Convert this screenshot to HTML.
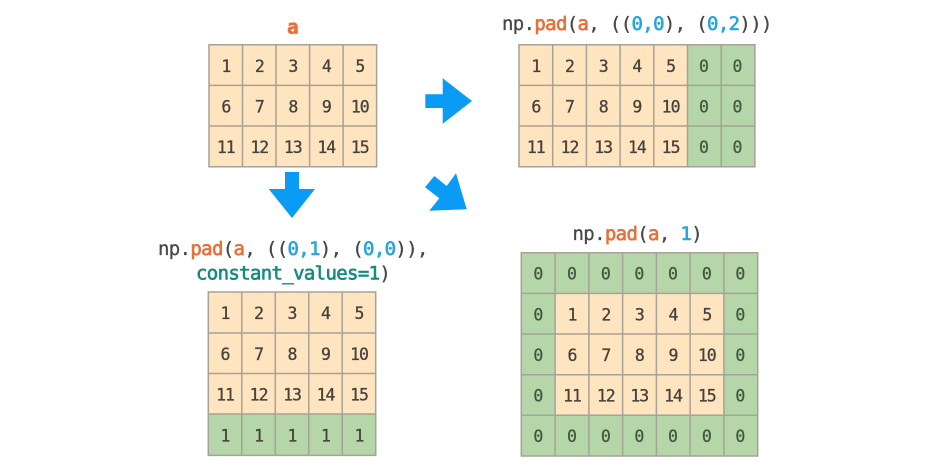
<!DOCTYPE html>
<html><head><meta charset="utf-8"><style>
html,body{margin:0;padding:0;background:#fff;width:927px;height:475px;overflow:hidden}
svg{display:block}
text{font-family:"DejaVu Sans Mono","Liberation Mono",monospace}
.n text{font-size:16.5px;letter-spacing:-1px;fill:#45423c;stroke:#45423c;stroke-width:.3px;text-anchor:middle}
.z text{font-size:16.5px;fill:#44553f;stroke:#44553f;stroke-width:.25px;text-anchor:middle}
.t{font-size:19px;letter-spacing:-.65px;fill:#474747;stroke:#474747;stroke-width:.3px}
.o{fill:#e8703a;stroke:#e8703a;stroke-width:.7px}
.b{fill:#26a5dc;stroke:#26a5dc;stroke-width:.6px}
.g{fill:#128a7c;stroke:#128a7c;stroke-width:.6px}
.l{stroke:#a6a297;stroke-width:1.5;fill:none}
</style></head><body>
<svg width="927" height="475" viewBox="0 0 927 475" xmlns="http://www.w3.org/2000/svg">
<rect width="927" height="475" fill="#fff"/>

<!-- Grid a -->
<rect x="209" y="44.7" width="167.6" height="122" fill="#ffe4c0"/>
<path class="l" d="M209 44.7H376.6V166.7H209ZM242.5 44.7V166.7M276 44.7V166.7M309.6 44.7V166.7M343.1 44.7V166.7M209 85.4H376.6M209 126H376.6"/>
<g class="n">
<text x="225.8" y="72">1</text><text x="259.3" y="72">2</text><text x="292.8" y="72">3</text><text x="326.3" y="72">4</text><text x="359.8" y="72">5</text>
<text x="225.8" y="112.5">6</text><text x="259.3" y="112.5">7</text><text x="292.8" y="112.5">8</text><text x="326.3" y="112.5">9</text><text x="359.8" y="112.5">10</text>
<text x="225.8" y="153">11</text><text x="259.3" y="153">12</text><text x="292.8" y="153">13</text><text x="326.3" y="153">14</text><text x="359.8" y="153">15</text>
</g>
<text x="292.5" y="33.5" class="t o" font-weight="bold" text-anchor="middle">a</text>

<!-- Grid top right -->
<rect x="519" y="44.7" width="168.5" height="122" fill="#ffe4c0"/>
<rect x="687.5" y="44.7" width="67.4" height="122" fill="#b5d6a8"/>
<path class="l" d="M519 44.7H754.9V166.7H519ZM552.7 44.7V166.7M586.4 44.7V166.7M620.1 44.7V166.7M653.8 44.7V166.7M687.5 44.7V166.7M721.2 44.7V166.7M519 85.4H754.9M519 126H754.9"/>
<g class="n">
<text x="535.8" y="72">1</text><text x="569.5" y="72">2</text><text x="603.2" y="72">3</text><text x="636.9" y="72">4</text><text x="670.6" y="72">5</text>
<text x="535.8" y="112.5">6</text><text x="569.5" y="112.5">7</text><text x="603.2" y="112.5">8</text><text x="636.9" y="112.5">9</text><text x="670.6" y="112.5">10</text>
<text x="535.8" y="153">11</text><text x="569.5" y="153">12</text><text x="603.2" y="153">13</text><text x="636.9" y="153">14</text><text x="670.6" y="153">15</text>
</g>
<g class="z">
<text x="704" y="72">0</text><text x="737.5" y="72">0</text>
<text x="704" y="112.5">0</text><text x="737.5" y="112.5">0</text>
<text x="704" y="153">0</text><text x="737.5" y="153">0</text>
</g>
<text x="502" y="30" class="t" xml:space="preserve">np.<tspan class="o">pad</tspan>(<tspan class="o">a</tspan>, ((<tspan class="b">0,0</tspan>), (<tspan class="b">0,2</tspan>)))</text>

<!-- Grid bottom left -->
<rect x="208.3" y="292" width="167.4" height="122" fill="#ffe4c0"/>
<rect x="208.3" y="414" width="167.4" height="41.4" fill="#b5d6a8"/>
<path class="l" d="M208.3 292H375.7V455.4H208.3ZM241.8 292V455.4M275.3 292V455.4M308.8 292V455.4M342.2 292V455.4M208.3 333H375.7M208.3 373.5H375.7M208.3 414H375.7"/>
<g class="n">
<text x="225" y="319">1</text><text x="258.6" y="319">2</text><text x="292" y="319">3</text><text x="325.5" y="319">4</text><text x="359" y="319">5</text>
<text x="225" y="360">6</text><text x="258.6" y="360">7</text><text x="292" y="360">8</text><text x="325.5" y="360">9</text><text x="359" y="360">10</text>
<text x="225" y="400.5">11</text><text x="258.6" y="400.5">12</text><text x="292" y="400.5">13</text><text x="325.5" y="400.5">14</text><text x="359" y="400.5">15</text>
<text x="225" y="441.5">1</text><text x="258.6" y="441.5">1</text><text x="292" y="441.5">1</text><text x="325.5" y="441.5">1</text><text x="359" y="441.5">1</text>
</g>
<text x="158" y="255" class="t" xml:space="preserve">np.<tspan class="o">pad</tspan>(<tspan class="o">a</tspan>, ((<tspan class="b">0,1</tspan>), (<tspan class="b">0,0</tspan>)),</text>
<text x="196" y="279.5" class="t" xml:space="preserve"><tspan class="g">constant_values=1</tspan>)</text>

<!-- Grid bottom right -->
<rect x="521.3" y="252.7" width="236.4" height="203.3" fill="#b5d6a8"/>
<rect x="555.1" y="293.4" width="168.8" height="121.9" fill="#ffe4c0"/>
<path class="l" d="M521.3 252.7H757.7V456H521.3ZM555.1 252.7V456M588.9 252.7V456M622.6 252.7V456M656.4 252.7V456M690.1 252.7V456M723.9 252.7V456M521.3 293.4H757.7M521.3 334H757.7M521.3 374.7H757.7M521.3 415.3H757.7"/>
<g class="n">
<text x="572" y="320.5">1</text><text x="605.8" y="320.5">2</text><text x="639.3" y="320.5">3</text><text x="673" y="320.5">4</text><text x="706.8" y="320.5">5</text>
<text x="572" y="361">6</text><text x="605.8" y="361">7</text><text x="639.3" y="361">8</text><text x="673" y="361">9</text><text x="706.8" y="361">10</text>
<text x="572" y="401.5">11</text><text x="605.8" y="401.5">12</text><text x="639.3" y="401.5">13</text><text x="673" y="401.5">14</text><text x="706.8" y="401.5">15</text>
</g>
<g class="z">
<text x="538.4" y="279.5">0</text><text x="572" y="279.5">0</text><text x="605.8" y="279.5">0</text><text x="639.3" y="279.5">0</text><text x="673" y="279.5">0</text><text x="706.8" y="279.5">0</text><text x="740.3" y="279.5">0</text>
<text x="538.4" y="320.5">0</text><text x="740.3" y="320.5">0</text>
<text x="538.4" y="361">0</text><text x="740.3" y="361">0</text>
<text x="538.4" y="401.5">0</text><text x="740.3" y="401.5">0</text>
<text x="538.4" y="442">0</text><text x="572" y="442">0</text><text x="605.8" y="442">0</text><text x="639.3" y="442">0</text><text x="673" y="442">0</text><text x="706.8" y="442">0</text><text x="740.3" y="442">0</text>
</g>
<text x="572.5" y="240" class="t" xml:space="preserve">np.<tspan class="o">pad</tspan>(<tspan class="o">a</tspan>, <tspan class="b">1</tspan>)</text>

<!-- Arrows -->
<polygon fill="#0a9cf5" points="425.3,94.3 442.7,94.3 442.7,78.3 472,101 442.7,123.7 442.7,108 425.3,108"/>
<polygon fill="#0a9cf5" points="285,172 299,172 299,189 315,189 292,218 268.7,189 285,189"/>
<polygon fill="#0a9cf5" points="425,187.3 434.3,176 446.7,186 456,173.3 466.7,209.3 429.3,210.7 439.3,198.3"/>
</svg>
</body></html>
